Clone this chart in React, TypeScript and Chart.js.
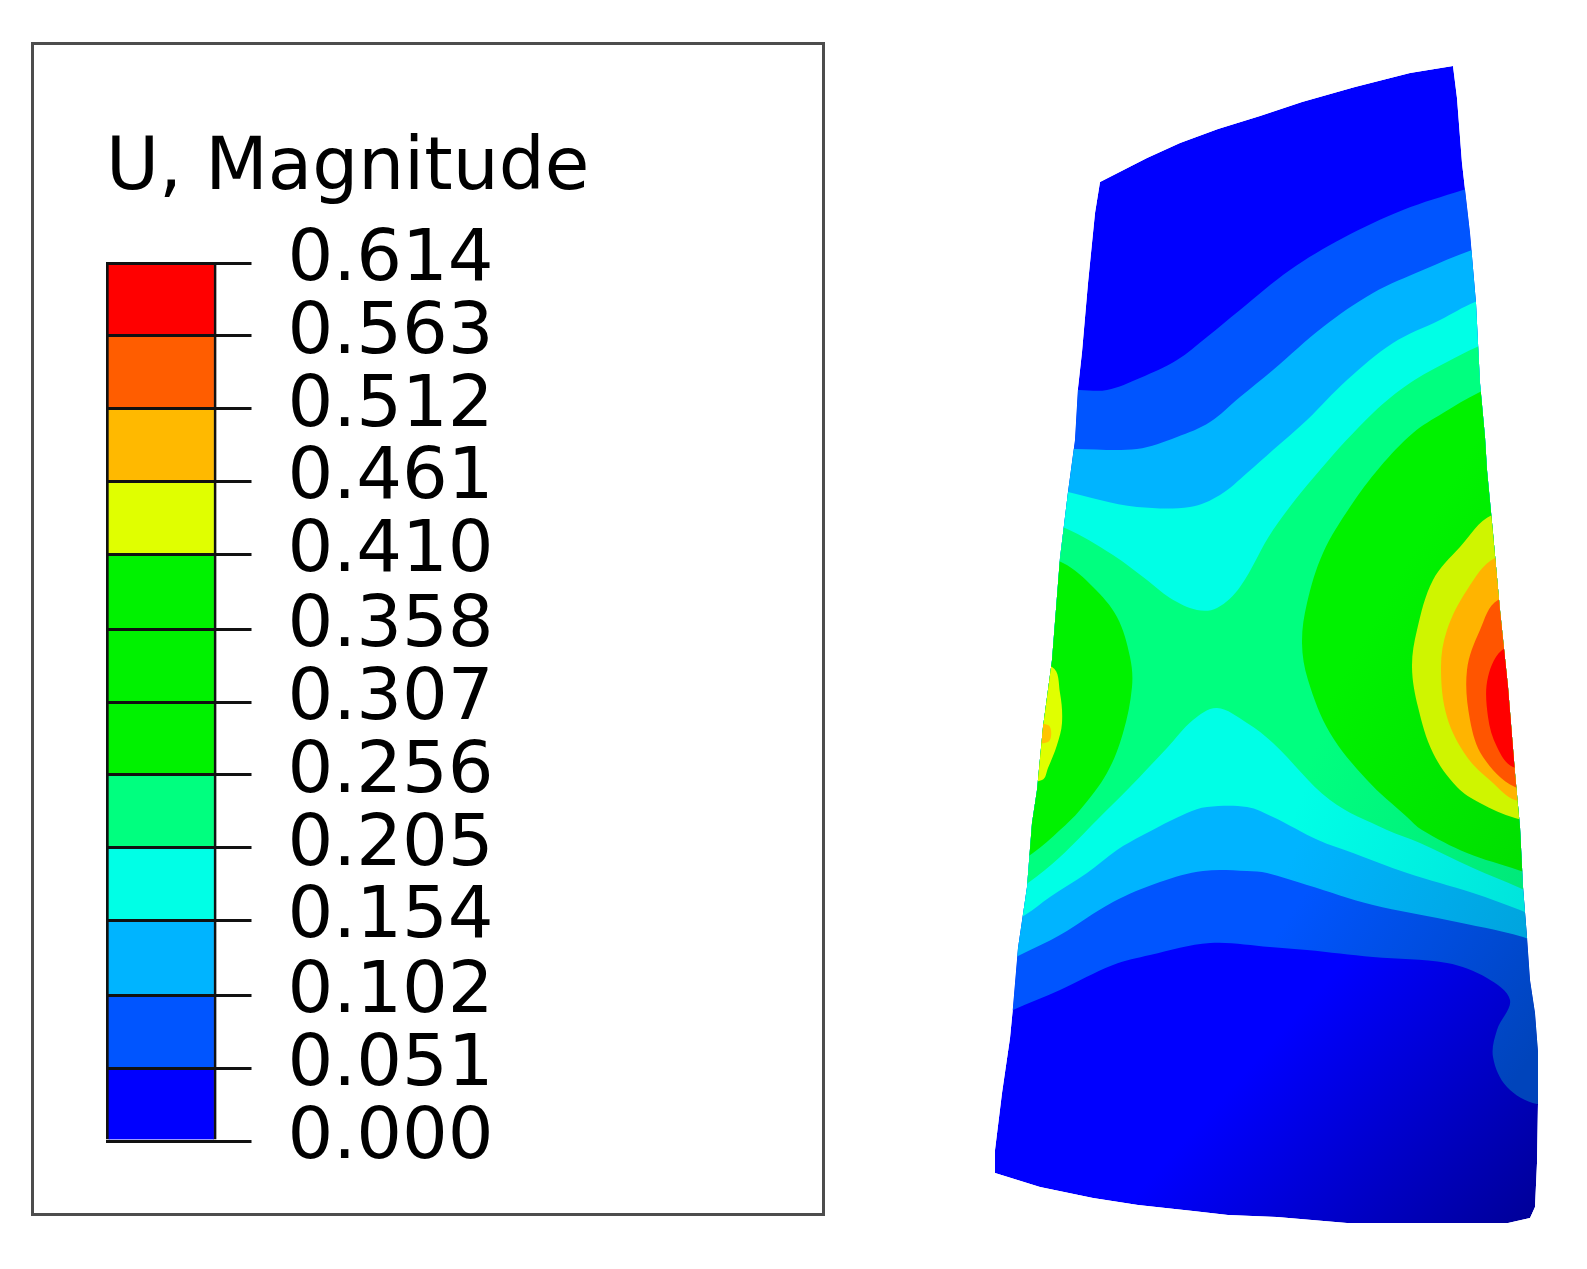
import React, { useEffect, useRef } from 'react';
import { Chart, registerables } from 'chart.js';

Chart.register(...registerables);

type Pt = [number, number];

// legend
const legendTitle = 'U, Magnitude';
const levels = [0, 0.051, 0.102, 0.154, 0.205, 0.256, 0.307, 0.358, 0.41, 0.461, 0.512, 0.563, 0.614];
const levelColors = [
  '#0000ff', '#0055ff', '#00b4ff', '#00ffe6', '#00ff7f', '#00f200',
  '#00f200', '#00f200', '#e0ff00', '#ffb900', '#ff5d00', '#ff0000',
];

// contour field in image pixels
const outline: Pt[] = [
  [1100, 182], [1147, 158], [1180, 143], [1218, 129], [1260, 116], [1302, 102], [1355, 87], [1410, 73], [1453, 66],
  [1457, 98], [1462, 163], [1470, 233], [1476, 303], [1480, 383], [1485, 437], [1487, 470], [1493, 533], [1500, 610],
  [1508, 687], [1515, 773], [1520, 827], [1523, 887], [1527, 937], [1530, 980], [1535, 1013], [1538, 1052],
  [1538, 1103], [1537, 1163], [1535, 1207], [1530, 1218], [1508, 1223], [1347, 1223], [1277, 1217], [1228, 1215],
  [1193, 1211], [1138, 1205], [1093, 1198], [1040, 1187], [995, 1173], [995, 1150], [1002, 1093], [1010, 1038],
  [1013, 1007], [1018, 948], [1027, 887], [1032, 823], [1037, 790], [1043, 727], [1052, 660], [1060, 558], [1068, 492],
  [1075, 440], [1078, 388], [1082, 352], [1088, 283], [1095, 213],
];
const band051: Pt[] = [
  [960, 390], [1079, 390], [1107, 390], [1140, 378], [1177, 360], [1207, 337], [1240, 310], [1290, 270], [1343, 238],
  [1403, 210], [1463, 190], [1587, 150], [1587, 1104], [1537, 1104], [1507, 1087], [1493, 1057], [1497, 1030],
  [1510, 1000], [1487, 978], [1447, 963], [1373, 957], [1307, 950], [1270, 947], [1210, 943], [1150, 955], [1113, 965],
  [1060, 990], [1013, 1010], [960, 1035],
];
const band102: Pt[] = [
  [960, 449], [1075, 449], [1137, 449], [1177, 437], [1210, 422], [1240, 397], [1273, 370], [1323, 327], [1373, 293],
  [1423, 270], [1472, 250], [1587, 210], [1587, 960], [1523, 937], [1447, 920], [1373, 905], [1307, 885], [1267, 873],
  [1247, 871], [1203, 871], [1160, 882], [1113, 902], [1060, 935], [1020, 955], [960, 985],
];
const band154: Pt[] = [
  [960, 470], [1068, 492], [1100, 500], [1137, 507], [1190, 507], [1220, 495], [1247, 473], [1273, 450], [1307, 420],
  [1347, 380], [1393, 343], [1440, 320], [1475, 302], [1587, 260], [1587, 935], [1520, 910], [1473, 893], [1407, 873],
  [1353, 853], [1318, 840], [1273, 817], [1247, 807], [1207, 807], [1187, 813], [1143, 835], [1117, 850], [1087, 873],
  [1050, 897], [1025, 915], [960, 950],
];
const band205: Pt[] = [
  [960, 490], [1065, 528], [1113, 555], [1147, 580], [1170, 598], [1197, 610], [1217, 608], [1240, 587],
  [1273, 530], [1320, 470], [1373, 413], [1410, 383], [1447, 362], [1477, 347], [1587, 300], [1587, 920],
  [1520, 888], [1473, 868], [1420, 843], [1387, 830], [1330, 800], [1273, 743], [1247, 723], [1217, 708], [1193, 720],
  [1167, 748], [1130, 787], [1097, 820], [1060, 857], [1028, 883], [960, 930],
];
const lobeRight256: Pt[] = [
  [1587, 340], [1478, 393], [1443, 413], [1413, 433], [1380, 467], [1350, 507], [1323, 553], [1307, 603], [1302, 643],
  [1308, 680], [1330, 733], [1367, 780], [1407, 817], [1422, 830], [1467, 853], [1518, 870], [1587, 895],
];
const lobeLeft256: Pt[] = [
  [960, 520], [1063, 563], [1093, 587], [1117, 617], [1130, 657], [1132, 687], [1123, 733], [1107, 773], [1080, 810],
  [1060, 830], [1033, 853], [960, 900],
];
const lobeLeft410: Pt[] = [
  [960, 640], [1052, 667], [1060, 693], [1062, 723], [1057, 745], [1048, 768], [1042, 780], [960, 800],
];
const lobeLeft461: Pt[] = [[1000, 725], [1048, 725], [1048, 742], [1000, 742]];
const lobeRight410: Pt[] = [
  [1587, 490], [1492, 515], [1460, 547], [1433, 580], [1417, 630], [1412, 667], [1418, 707], [1433, 753], [1457, 787],
  [1480, 803], [1515, 818], [1587, 835],
];
const lobeRight461: Pt[] = [
  [1587, 530], [1495, 558], [1467, 590], [1447, 630], [1441, 667], [1447, 717], [1467, 757], [1493, 783], [1515, 800],
  [1587, 815],
];
const lobeRight512: Pt[] = [
  [1587, 570], [1498, 600], [1480, 630], [1467, 670], [1470, 720], [1483, 757], [1515, 787], [1587, 805],
];
const lobeRight563: Pt[] = [
  [1587, 620], [1505, 648], [1488, 677], [1488, 717], [1497, 747], [1513, 767], [1587, 785],
];

// [points, colour, shaded colour or null, gradient line]
const bands: [Pt[], string, string | null, number[]][] = [
  [outline, '#0000ff', '#00009a', [1300, 1010, 1530, 1215]],
  [band051, '#0055ff', '#0044bb', [1300, 900, 1530, 1060]],
  [band102, '#00b4ff', '#00a4dc', [1300, 840, 1530, 950]],
  [band154, '#00ffe6', '#00e4dc', [1300, 800, 1530, 900]],
  [band205, '#00ff7f', '#00e87a', [1300, 780, 1530, 890]],
  [lobeRight256, '#00f200', '#00de00', [1300, 750, 1530, 880]],
  [lobeLeft256, '#00f200', null, []],
  [lobeLeft410, '#e0ff00', null, []],
  [lobeLeft461, '#ffc400', null, []],
  [lobeRight410, '#cff500', null, []],
  [lobeRight461, '#ffb400', null, []],
  [lobeRight512, '#ff5500', null, []],
  [lobeRight563, '#ff0000', null, []],
];

// keeps every band inside the silhouette of the part
const clipToOutline = {
  id: 'clipToOutline',
  beforeDatasetsDraw(chart: any) {
    const { ctx, scales } = chart;
    ctx.save();
    ctx.beginPath();
    outline.forEach(([x, y]) => ctx.lineTo(scales.x.getPixelForValue(x), scales.y.getPixelForValue(y)));
    ctx.closePath();
    ctx.clip();
  },
  afterDatasetsDraw(chart: any) {
    chart.ctx.restore();
  },
};

const LegendChart = () => {
  const ref = useRef<HTMLCanvasElement | null>(null);

  useEffect(() => {
    if (!ref.current) return;
    const chart = new Chart(ref.current, {
      type: 'bar',
      data: {
        labels: ['U'],
        datasets: levelColors.map((color, i) => ({
          data: [[levels[i], levels[i + 1]]],
          backgroundColor: color,
          borderColor: '#111',
          borderWidth: { left: 3, right: 3, top: 0, bottom: 0 },
          borderSkipped: false,
          grouped: false,
          barPercentage: 1,
          categoryPercentage: 1,
        })) as any,
      },
      options: {
        animation: false,
        responsive: false,
        layout: { padding: { left: 72, right: 0, top: 0, bottom: 72 } },
        plugins: {
          legend: { display: false },
          tooltip: { enabled: false },
          title: {
            display: true,
            text: legendTitle,
            align: 'start',
            color: '#000',
            font: { family: 'DejaVu Sans', size: 72.5, weight: 'normal' },
            padding: { top: 82, bottom: 49 },
          },
        },
        scales: {
          x: { display: false },
          y: {
            position: 'right',
            min: 0,
            max: 0.614,
            afterBuildTicks: (scale: any) => {
              scale.ticks = levels.map((value) => ({ value }));
            },
            afterFit: (scale: any) => {
              scale.width = 605.5;
              // tick labels must not push the plot area in
              scale.paddingTop = 0;
              scale.paddingBottom = 0;
            },
            border: { display: false },
            grid: { color: '#111', lineWidth: 3, tickLength: 35, z: 1 },
            ticks: {
              autoSkip: false,
              color: '#000',
              padding: 36,
              labelOffset: -2,
              font: { family: 'DejaVu Sans', size: 72 },
              callback: (v: any) => Number(v).toFixed(3),
            },
          },
        },
      },
    });
    return () => chart.destroy();
  }, []);

  return <canvas ref={ref} width={788} height={1168} style={{ display: 'block' }} />;
};

const ContourChart = () => {
  const ref = useRef<HTMLCanvasElement | null>(null);

  useEffect(() => {
    if (!ref.current) return;
    const ctx = ref.current.getContext('2d');
    if (!ctx) return;

    const paint = (color: string, shaded: string | null, line: number[]) => {
      if (!shaded) return color;
      const g = ctx.createLinearGradient(line[0], line[1], line[2], line[3]);
      g.addColorStop(0, color);
      g.addColorStop(1, shaded);
      return g;
    };

    const chart = new Chart(ref.current, {
      type: 'scatter',
      data: {
        datasets: bands.map(([pts, color, shaded, line], i) => ({
          data: pts.map(([x, y]) => ({ x, y })),
          showLine: true,
          fill: 'shape',
          tension: pts === outline ? 0 : 0.35,
          backgroundColor: paint(color, shaded, line),
          borderWidth: 0,
          pointRadius: 0,
          order: -i,
        })) as any,
      },
      options: {
        animation: false,
        responsive: false,
        events: [],
        plugins: { legend: { display: false }, tooltip: { enabled: false } },
        scales: {
          x: { type: 'linear', display: false, min: 0, max: 1587 },
          y: { type: 'linear', display: false, min: 0, max: 1269, reverse: true },
        },
      },
      plugins: [clipToOutline],
    });
    return () => chart.destroy();
  }, []);

  return <canvas ref={ref} width={1587} height={1269} style={{ display: 'block' }} />;
};

export default function App() {
  return (
    <div style={{ position: 'absolute', left: 0, top: 0, width: 1587, height: 1269, background: '#fff', overflow: 'hidden' }}>
      <div style={{ position: 'absolute', left: 0, top: 0 }}>
        <ContourChart />
      </div>
      <div
        style={{
          position: 'absolute',
          left: 33.5,
          top: 44.5,
          width: 788,
          height: 1168,
          outline: '3px solid #4d4d4d',
        }}
      >
        <LegendChart />
      </div>
    </div>
  );
}
